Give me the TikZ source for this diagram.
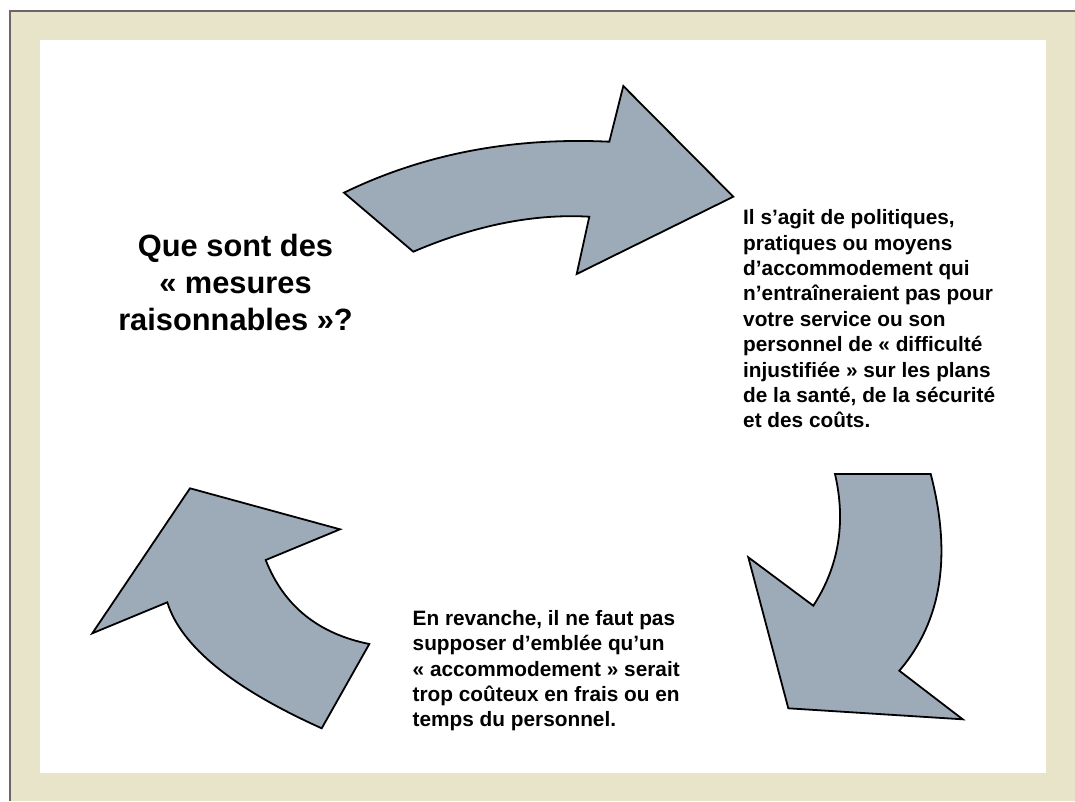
\documentclass[tikz,border=0pt]{standalone}
\usepackage{fontspec}
\setmainfont{Liberation Sans}
\definecolor{frameback}{RGB}{232,228,201}
\definecolor{arrowgray}{RGB}{157,171,185}
\definecolor{framegray}{RGB}{112,100,100}
\newcommand{\qfont}{\fontsize{30.8}{36.8}\selectfont\bfseries}
\newcommand{\notefont}{\fontsize{20.8}{25.4}\selectfont\bfseries}
\tikzset{cyclearrow/.style={fill=arrowgray, draw=black, line width=1.8pt, line join=miter},
  note/.style={anchor=north west, align=left, inner sep=0pt, font=\notefont}}

\begin{document}
\begin{tikzpicture}[x=1pt,y=-1pt]
\useasboundingbox (0,0) rectangle (1075,801);

% frame
\fill[white] (0,0) rectangle (1075,801);
\fill[frameback] (9,10) rectangle (1075,801);
\draw[framegray, line width=2pt] (10,801) -- (10,11) -- (1075,11);
\fill[white] (40,40) rectangle (1046,773);

% top arrow, pointing right
\draw[cyclearrow] (344,192.7) .. controls (423.3,154.1) and (511.7,137.1) .. (609.3,141.7)
  -- (623.3,86) -- (733.3,196.7) -- (576.7,274) -- (589.3,216.7)
  .. controls (534.3,213.5) and (475.5,225.1) .. (413.3,251.7) -- cycle;
% right arrow, pointing down
\draw[cyclearrow] (930.7,474) .. controls (952,556) and (941.6,621.6) .. (899.3,670.7)
  -- (962.7,719.3) -- (788.3,708.3) -- (748.3,557.3) -- (813.3,605.7)
  .. controls (838.9,566.4) and (846.1,522.5) .. (835,474) -- cycle;
% left arrow, pointing up
\draw[cyclearrow] (321.7,728.3) .. controls (232.4,688.1) and (180.9,646.1) .. (167.3,602.3)
  -- (92.3,633.3) -- (190,488.3) -- (340,529.3) -- (265.7,560)
  .. controls (283.6,605.7) and (318.1,633.7) .. (369.3,644) -- cycle;

% texts
\node[anchor=north, align=center, inner sep=0pt, font=\qfont] (question) at (235.5,234)
  {Que sont des\\« mesures\\raisonnables »?};
\node[note] (definition) at (743,209.5)
  {Il s’agit de politiques,\\pratiques ou moyens\\d’accommodement qui\\n’entraîneraient pas pour\\votre service ou son\\personnel de « difficulté\\injustifiée » sur les plans\\de la santé, de la sécurité\\et des coûts.};
\node[note] (caution) at (412.5,610)
  {En revanche, il ne faut pas\\supposer d’emblée qu’un\\« accommodement » serait\\trop coûteux en frais ou en\\temps du personnel.};

\end{tikzpicture}
\end{document}
